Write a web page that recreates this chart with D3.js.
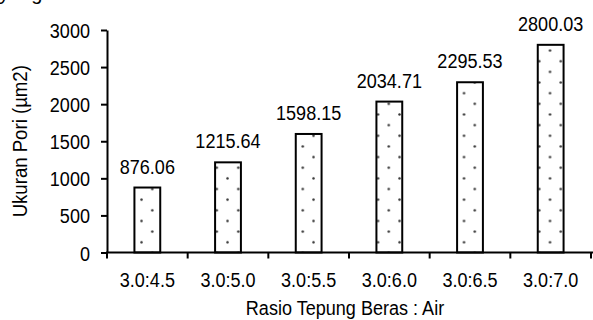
<!DOCTYPE html>
<html>
<head>
<meta charset="utf-8">
<script src="https://cdn.jsdelivr.net/npm/d3@7"></script>
<style>
  html, body { margin: 0; padding: 0; background: #fff; }
  svg { display: block; font-family: "Liberation Sans", Arial, sans-serif; }
</style>
</head>
<body>
<svg id="chart" width="593" height="320"></svg>
<script>
// Pore size per flour:water ratio
const categories = ["3.0:4.5", "3.0:5.0", "3.0:5.5", "3.0:6.0", "3.0:6.5", "3.0:7.0"];
const values = [876.06, 1215.64, 1598.15, 2034.71, 2295.53, 2800.03];
const yTicks = [0, 500, 1000, 1500, 2000, 2500, 3000];
const xTitle = "Rasio Tepung Beras : Air";
const yTitle = "Ukuran Pori (µm2)";

(function () {
const svg = d3.select("#chart");
const W = 593, H = 320;
const plotL = 107, plotR = 591, plotT = 30, plotB = 252.5;
const squeeze = 0.86;

const x = d3.scaleBand().domain(categories).range([plotL, plotR]).padding(0);
const y = d3.scaleLinear().domain([0, 3000]).range([plotB, plotT]);
const barW = x.bandwidth() * 0.32;

// dotted fill for the bars
const defs = svg.append("defs");
const pat = defs.append("pattern")
  .attr("id", "dots")
  .attr("patternUnits", "userSpaceOnUse")
  .attr("x", 17.9).attr("y", 13.3)
  .attr("width", 21.5).attr("height", 21.3);
pat.append("rect").attr("width", 21.5).attr("height", 21.3).attr("fill", "#fff");
pat.append("circle").attr("cx", 5.375).attr("cy", 5.325).attr("r", 1.25).attr("fill", "#333");
pat.append("circle").attr("cx", 16.125).attr("cy", 15.975).attr("r", 1.25).attr("fill", "#333");

// running text line above the figure
svg.append("text").attr("x", -1).attr("y", 0)
  .attr("font-size", 20).attr("fill", "#000").text("yang");

// bars
svg.append("g").selectAll("rect")
  .data(values)
  .join("rect")
  .attr("x", (d, i) => x(categories[i]) + x.bandwidth() / 2 - barW / 2)
  .attr("y", d => y(d))
  .attr("width", barW)
  .attr("height", d => y(0) - y(d))
  .attr("fill", "url(#dots)")
  .attr("stroke", "#000")
  .attr("stroke-width", 2);

// value labels
svg.append("g").selectAll("text")
  .data(values)
  .join("text")
  .attr("transform", (d, i) => `translate(${x(categories[i]) + x.bandwidth() / 2},${y(d) - 14}) scale(${squeeze},1)`)
  .attr("text-anchor", "middle")
  .attr("font-size", 21)
  .attr("fill", "#000")
  .text(d => d.toFixed(2));

// y axis
const yAxis = svg.append("g")
  .attr("transform", `translate(${plotL},0)`)
  .call(d3.axisLeft(y).tickValues(yTicks).tickFormat(d3.format("d"))
    .tickSize(6).tickSizeOuter(0).tickPadding(0));
yAxis.select(".domain").attr("stroke", "#000").attr("stroke-width", 2);
yAxis.selectAll(".tick line").attr("stroke", "#000").attr("stroke-width", 2);
yAxis.selectAll(".tick text")
  .attr("x", null).attr("dy", "0.36em")
  .attr("transform", `translate(-17,0) scale(${squeeze},1)`)
  .attr("font-size", 21)
  .attr("fill", "#000")
  .attr("font-family", "Liberation Sans, Arial, sans-serif");

// x axis
const xAxis = svg.append("g")
  .attr("transform", `translate(0,${plotB})`)
  .call(d3.axisBottom(x).tickSize(0).tickSizeOuter(0));
xAxis.select(".domain").attr("stroke", "#000").attr("stroke-width", 2)
  .attr("d", `M${plotL - 1},0H${W}`);
xAxis.selectAll(".tick text")
  .attr("y", 0).attr("dy", null)
  .attr("transform", `translate(0,34.5) scale(${squeeze},1)`)
  .attr("font-size", 21)
  .attr("fill", "#000")
  .attr("font-family", "Liberation Sans, Arial, sans-serif");
// boundary ticks between categories
const bounds = categories.map(c => x(c)).concat([x(categories[categories.length - 1]) + x.bandwidth()]);
xAxis.selectAll("line.bound")
  .data(bounds)
  .join("line")
  .attr("class", "bound")
  .attr("x1", d => d).attr("x2", d => d)
  .attr("y1", 0).attr("y2", 6)
  .attr("stroke", "#000").attr("stroke-width", 2);

// axis titles
svg.append("text")
  .attr("transform", `translate(${(plotL + plotR) / 2 - 4},315) scale(${squeeze},1)`)
  .attr("text-anchor", "middle")
  .attr("font-size", 21)
  .attr("fill", "#000")
  .text(xTitle);

svg.append("text")
  .attr("transform", `translate(27,${(plotT + plotB) / 2}) rotate(-90) scale(0.93,1)`)
  .attr("text-anchor", "middle")
  .attr("font-size", 20)
  .attr("fill", "#000")
  .text(yTitle);
})();
</script>
</body>
</html>
